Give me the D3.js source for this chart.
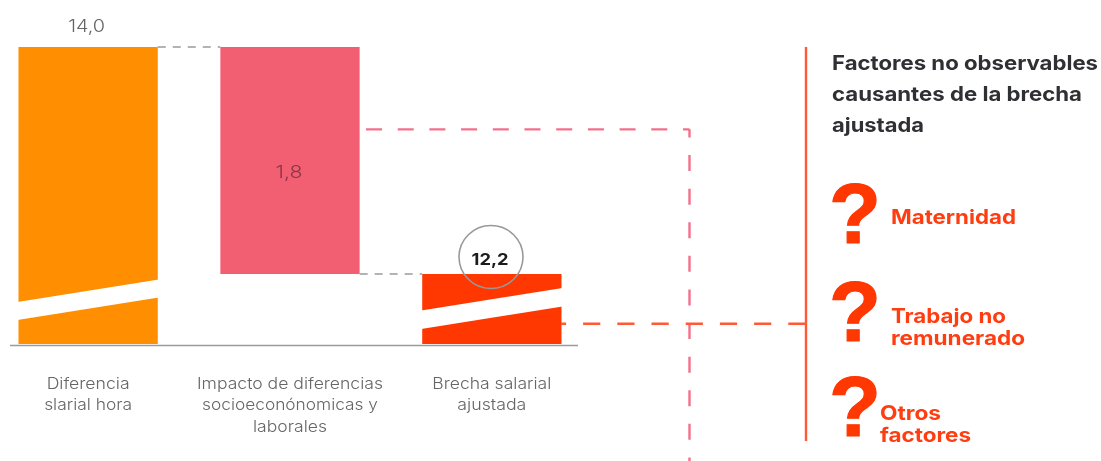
<!DOCTYPE html>
<html><head><meta charset="utf-8">
<script src="https://cdn.jsdelivr.net/npm/d3@7"></script>
<style>html,body{margin:0;padding:0;background:#fff}svg{display:block;filter:blur(0.45px)}text{font-family:Inter,"Liberation Sans",Arial,sans-serif}text.q{font-family:"Liberation Sans",Arial,sans-serif}</style>
</head><body><svg id="c" width="1101" height="461"></svg>
<script>
const categories = ["Diferencia slarial hora","Impacto de diferencias socioeconómicas y laborales","Brecha salarial ajustada"];
const categoryLines = [["Diferencia","slarial hora"],["Impacto de diferencias","socioeconónomicas y","laborales"],["Brecha salarial","ajustada"]];
const barTops = [14.0,14.0,12.2];
const barBottoms = [null,12.2,null];
const barLabels = ["14,0","1,8","12,2"];
const barColors = ["#FF8E00","#F25F73","#FF3700"];
const factors = [["Maternidad"],["Trabajo no","remunerado"],["Otros","factores"]];
const titleLines = ["Factores no observables","causantes de la brecha","ajustada"];

const W=1101,H=461;
const svg=d3.select("#c");
const axisBase=11.645;
const x=d3.scaleBand().domain(categories).range([18.5,561.5]).paddingInner(0.31).paddingOuter(0);
const y=d3.scaleLinear().domain([axisBase,14]).range([344,47]);
const bw=x.bandwidth();

// bars
svg.append("g").selectAll("rect").data(categories).join("rect")
 .attr("x",d=>x(d)).attr("width",bw)
 .attr("y",(d,i)=>y(barTops[i]))
 .attr("height",(d,i)=>(barBottoms[i]===null?y(axisBase):y(barBottoms[i]))-y(barTops[i]))
 .attr("fill",(d,i)=>barColors[i]);

// axis break stripes on truncated bars
const breaks=[{i:0,l:302,r:279.5,h:18},{i:2,l:310.5,r:288,h:18.5}];
svg.append("g").selectAll("path").data(breaks).join("path")
 .attr("fill","#fff")
 .attr("d",b=>{const a=x(categories[b.i])-1,c=a+bw+2;
   return d3.line()([[a,b.l],[c,b.r],[c,b.r+b.h],[a,b.l+b.h]])+"Z";});

// baseline
svg.append("line").attr("x1",10).attr("x2",578).attr("y1",345.5).attr("y2",345.5).attr("stroke","#9a9a9a").attr("stroke-width",1.6);

// grey connectors
const conn=[[0,1,14.0],[1,2,12.2]];
svg.append("g").selectAll("line").data(conn).join("line")
 .attr("x1",d=>x(categories[d[0]])+bw).attr("x2",d=>x(categories[d[1]]))
 .attr("y1",d=>y(d[2])).attr("y2",d=>y(d[2]))
 .attr("stroke","#9a9a9a").attr("stroke-width",1.6).attr("stroke-dasharray","8 7");

// dashed annotation routes
const pinkLevel=13.347, redLevel=11.806;
svg.append("path").attr("fill","none").attr("stroke","#F2708A").attr("stroke-width",2.4).attr("stroke-dasharray","16 15.7")
 .attr("d",d3.line()([[366,y(pinkLevel)],[689.5,y(pinkLevel)]]));
svg.append("path").attr("fill","none").attr("stroke","#F2708A").attr("stroke-width",2.4).attr("stroke-dasharray","16 17.6").attr("stroke-dashoffset",7.9)
 .attr("d",d3.line()([[689.5,y(pinkLevel)],[689.5,461]]));
svg.append("path").attr("fill","none").attr("stroke","#FF5A36").attr("stroke-width",2.4).attr("stroke-dasharray","17.2 17")
 .attr("d",d3.line()([[805.5,y(redLevel)],[561,y(redLevel)]]));
// vertical rule
svg.append("line").attr("x1",806).attr("x2",806).attr("y1",47).attr("y2",441).attr("stroke","#FF5A36").attr("stroke-width",2.4);

// text helper
const t=(s,px,py,size,fill,anchor,weight,len)=>{const e=svg.append("text").text(s)
 .attr("x",px).attr("y",py)
 .attr("font-size",size).attr("fill",fill).attr("text-anchor",anchor||"start").attr("font-weight",weight||"normal");
 if(len) e.attr("textLength",len).attr("lengthAdjust","spacingAndGlyphs");
 return e;};
t(barLabels[0],x(categories[0])+bw/2-1.5,32,17,"#666","middle",300,37);
t(barLabels[1],x(categories[1])+bw/2-1,178,17,"#8a3545","middle",300,27);
svg.append("ellipse").attr("cx",491).attr("cy",257).attr("rx",32).attr("ry",31.5).attr("fill","none").attr("stroke","#999").attr("stroke-width",1.6);
t(barLabels[2],490,265,16.5,"#1c1c1c","middle","bold",37);

// category labels
const catLens=[[83,88],[186,176,74],[119,69]];
categoryLines.forEach((ls,i)=>ls.forEach((s,j)=>t(s,x(categories[i])+bw/2,388.5+j*21.7,16,"#666","middle",300,catLens[i][j])));

// title
const titleLens=[266,250,92];
titleLines.forEach((s,j)=>t(s,832,70+j*31,20,"#2f3033","start","bold",titleLens[j]));

// factors
const qs=[243,341,436];
qs.forEach(b=>t("?",829,b,85,"#FF3700","start","bold").attr("class","q").attr("stroke","#FF3700").attr("stroke-width",1.2));
const fx=[{x:891,y:[224],w:[125]},{x:891,y:[323,345],w:[115,134]},{x:880,y:[419.5,441.5],w:[61,91]}];
fx.forEach((f,i)=>factors[i].forEach((s,j)=>t(s,f.x,f.y[j],20,"#FF3D10","start","bold",f.w[j])));
</script></body></html>
